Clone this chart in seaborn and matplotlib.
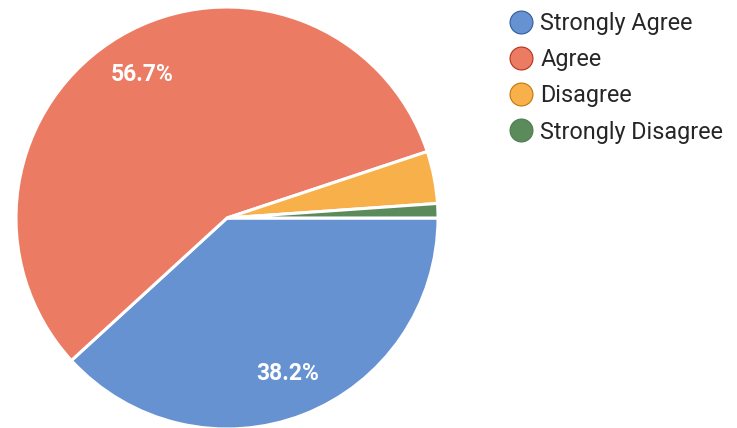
import matplotlib
matplotlib.use("Agg")
import matplotlib.pyplot as plt
import seaborn as sns
from matplotlib.lines import Line2D

# data
labels = ["Strongly Agree", "Agree", "Disagree", "Strongly Disagree"]
shares = [38.2, 56.7, 4.0, 1.1]
colors = ["#6692d2", "#ec7b64", "#f8b04a", "#5b8b5a"]

sns.set_theme(style="white")
plt.rcParams["font.family"] = ["Roboto", "DejaVu Sans"]

fig = plt.figure(figsize=(7.37, 4.28), dpi=100)
W, H = 737, 428
cx, cy, r = 227, 218, 211
ax = fig.add_axes([(cx - r) / W, (H - cy - r) / H, 2 * r / W, 2 * r / H])

wedges, texts, autotexts = ax.pie(
    shares,
    colors=colors,
    startangle=0,
    counterclock=False,
    autopct=lambda p: f"{p:.1f}%" if p > 10 else "",
    pctdistance=0.79,
    wedgeprops=dict(edgecolor="white", linewidth=2.2),
    textprops=dict(color="white", fontsize=16.5, fontweight="bold"),
)
for w in wedges:
    w.set_clip_on(False)
ax.set_xlim(-1, 1)
ax.set_ylim(-1, 1)
ax.set_aspect("equal")
ax.axis("off")

handles = [
    Line2D([], [], marker="o", linestyle="none", markersize=16.5,
           markerfacecolor=c, markeredgecolor=sns.set_hls_values(c, l=0.4),
           markeredgewidth=0.8)
    for c in colors
]
fig.legend(handles, labels, loc="upper left",
           bbox_to_anchor=(496 / W, 1 - 0 / H),
           frameon=False, fontsize=16.8, labelspacing=0.57,
           handletextpad=0.3, handlelength=1.1, borderpad=0)

fig.savefig("out.png", dpi=100)
